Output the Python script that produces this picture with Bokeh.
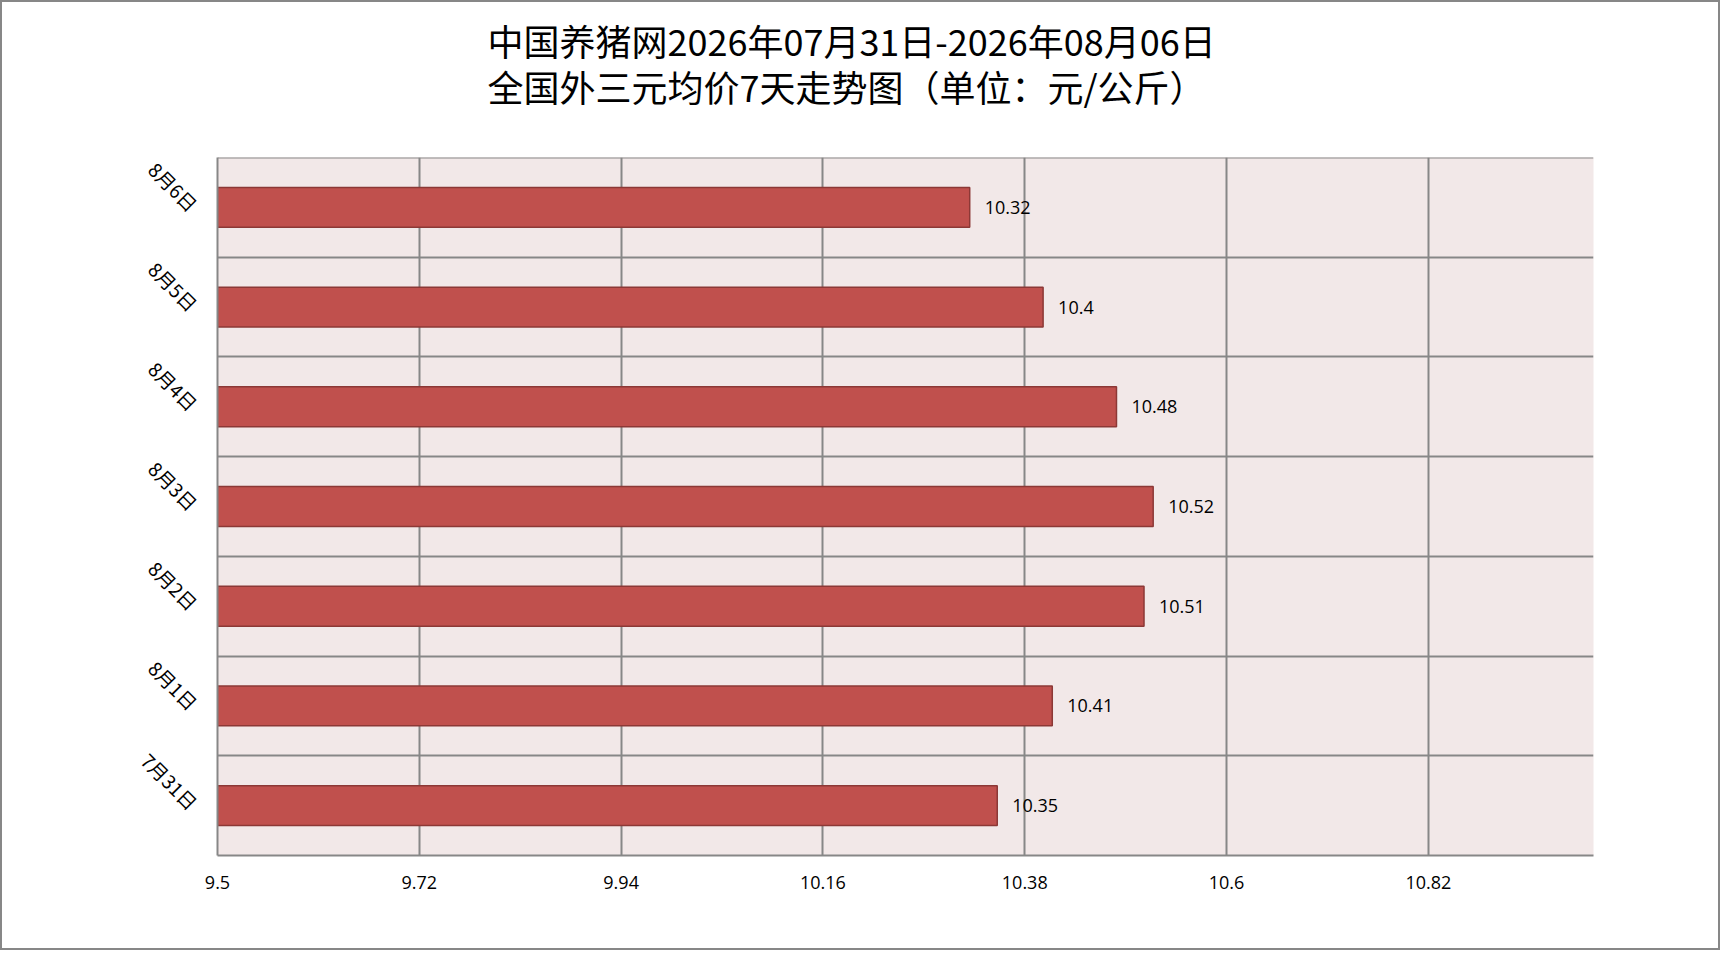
import math
from bokeh.plotting import figure
from bokeh.models import Range1d, FixedTicker, ColumnDataSource, Span
from bokeh.core.properties import value
from bokeh.embed import file_html
from bokeh.resources import INLINE

# ---- data ----
categories = ["7月31日", "8月1日", "8月2日", "8月3日", "8月4日", "8月5日", "8月6日"]
prices = [10.35, 10.41, 10.51, 10.52, 10.48, 10.40, 10.32]
price_labels = ["10.35", "10.41", "10.51", "10.52", "10.48", "10.4", "10.32"]
x_ticks = [9.5, 9.72, 9.94, 10.16, 10.38, 10.6, 10.82]
x_tick_labels = ["9.5", "9.72", "9.94", "10.16", "10.38", "10.6", "10.82"]
x_start, x_end = 9.5, 11.0
title_line1 = "中国养猪网2026年07月31日-2026年08月06日"
title_line2 = "全国外三元均价7天走势图（单位：元/公斤）"

ypos = [i + 0.5 for i in range(len(categories))]
src = ColumnDataSource(dict(y=ypos, right=prices, left=[x_start] * len(prices), lab=price_labels))

p = figure(width=1720, height=950, output_backend="svg", toolbar_location=None,
           x_range=Range1d(x_start, x_end), y_range=Range1d(0, len(categories)),
           min_border_left=215, min_border_right=129, min_border_top=155, min_border_bottom=97)
p.styles = {"border": "2px solid #878787"}

# title: two lines plus an empty spacer line that keeps a gap above the plot area
p.title.text = title_line1 + "\n" + title_line2 + "\n "
p.title.align = "left"
p.title.offset = 270
p.title.text_font = "Noto Sans CJK SC"
p.title.text_font_size = "36px"
p.title.text_font_style = "normal"
p.title.text_line_height = 0.88
p.title.standoff = 0
p.title.text_color = "black"

p.background_fill_color = "#F2E8E8"
p.border_fill_color = "white"
p.outline_line_color = None

p.hbar(y="y", left="left", right="right", height=0.4, source=src,
       fill_color="#C0504D", line_color="#8C3836", line_width=1.5)
p.text(x="right", y="y", text="lab", source=src, x_offset=15, text_baseline="middle",
       text_align="left", text_font=value("Open Sans"), text_font_size="18px", text_color="black")

# top border line of the plot area
p.add_layout(Span(location=len(categories), dimension="width", line_color="#878787", line_width=2))

# x axis
p.xaxis.ticker = FixedTicker(ticks=x_ticks)
p.xaxis.major_label_overrides = {t: l for t, l in zip(x_ticks, x_tick_labels)}
p.xaxis.major_label_text_font = "Open Sans"
p.xaxis.major_label_text_font_size = "18px"
p.xaxis.major_label_text_color = "black"
p.xaxis.major_label_standoff = 14
p.xaxis.axis_line_color = "#878787"
p.xaxis.axis_line_width = 2
p.xaxis.major_tick_line_color = None
p.xaxis.minor_tick_line_color = None

# y axis
p.yaxis.ticker = FixedTicker(ticks=ypos)
p.yaxis.major_label_overrides = {t: c for t, c in zip(ypos, categories)}
p.yaxis.major_label_orientation = -math.pi / 4
p.yaxis.major_label_text_font = "Noto Sans CJK SC"
p.yaxis.major_label_text_font_size = "19px"
p.yaxis.major_label_text_color = "black"
p.yaxis.major_label_standoff = 17
p.yaxis.axis_line_color = "#878787"
p.yaxis.axis_line_width = 2
p.yaxis.major_tick_line_color = None
p.yaxis.minor_tick_line_color = None

# grids
p.xgrid.ticker = FixedTicker(ticks=x_ticks)
p.xgrid.grid_line_color = "#878787"
p.xgrid.grid_line_width = 2
p.ygrid.ticker = FixedTicker(ticks=list(range(1, len(categories))))
p.ygrid.grid_line_color = "#878787"
p.ygrid.grid_line_width = 2

open("out.html", "w").write(file_html(p, INLINE))
